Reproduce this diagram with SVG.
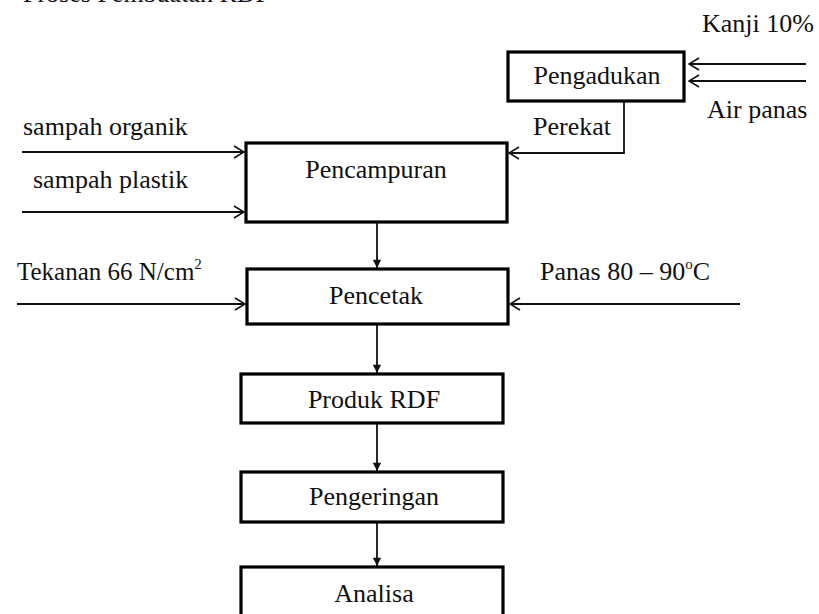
<svg xmlns="http://www.w3.org/2000/svg" width="819" height="614" viewBox="0 0 819 614">
<style>
text{font-family:"Liberation Serif","Times New Roman",serif;font-size:26px;fill:#111}
.box{fill:#fff;stroke:#000;stroke-width:3.2}
.c{text-anchor:middle}
.sup{font-size:15px}
.ln{fill:none;stroke:#111;stroke-width:1.8}
.in{marker-end:url(#open)}
.dn{marker-end:url(#fill)}
</style>
<defs>
<marker id="open" viewBox="0 0 12 14" refX="11" refY="7" markerWidth="12" markerHeight="14" markerUnits="userSpaceOnUse" orient="auto">
<path d="M1,1 L11,7 L1,13" fill="none" stroke="#111" stroke-width="1.6"/>
</marker>
<marker id="fill" viewBox="0 0 10 12" refX="10" refY="5" markerWidth="12" markerHeight="10" markerUnits="userSpaceOnUse" orient="auto">
<path d="M0,0 L10,5 L0,10 z" fill="#111"/>
</marker>
</defs>
<rect width="819" height="614" fill="#fff"/>
<text x="23" y="2">Proses Pembuatan RDF</text>

<g id="connectors">
<line class="ln in" x1="806" y1="64" x2="689" y2="64"/>
<line class="ln in" x1="806" y1="81" x2="689" y2="81"/>
<polyline class="ln in" points="624,101 624,153 509,153"/>
<line class="ln in" x1="22" y1="152" x2="244" y2="152"/>
<line class="ln in" x1="22" y1="212" x2="244" y2="212"/>
<line class="ln in" x1="17" y1="304" x2="245" y2="304"/>
<line class="ln in" x1="740" y1="304" x2="510" y2="304"/>
<line class="ln dn" x1="377" y1="222" x2="377" y2="268"/>
<line class="ln dn" x1="377" y1="324" x2="377" y2="373"/>
<line class="ln dn" x1="377" y1="423" x2="377" y2="471"/>
<line class="ln dn" x1="377" y1="522" x2="377" y2="566"/>
<text x="702" y="32">Kanji 10%</text>
<text x="707" y="118">Air panas</text>
<text x="533" y="135">Perekat</text>
<text x="23" y="135">sampah organik</text>
<text x="33" y="188">sampah plastik</text>
<text x="17" y="280" style="font-size:25px">Tekanan 66 N/cm<tspan class="sup" dy="-11">2</tspan></text>
<text x="540" y="280">Panas 80 – 90<tspan class="sup" dy="-11">o</tspan><tspan dy="11">C</tspan></text>
</g>

<g id="pengadukan"><rect class="box" x="508" y="52" width="176" height="49"/><text class="c" x="597" y="84">Pengadukan</text></g>
<g id="pencampuran"><rect class="box" x="246" y="143" width="261" height="79"/><text class="c" x="376" y="178">Pencampuran</text></g>
<g id="pencetak"><rect class="box" x="247" y="269" width="261" height="55"/><text class="c" x="376" y="304">Pencetak</text></g>
<g id="produk"><rect class="box" x="241" y="374" width="262" height="49"/><text class="c" x="374" y="408">Produk RDF</text></g>
<g id="pengeringan"><rect class="box" x="241" y="472" width="262" height="50"/><text class="c" x="374" y="505">Pengeringan</text></g>
<g id="analisa"><rect class="box" x="241" y="567" width="262" height="60"/><text class="c" x="374" y="602">Analisa</text></g>
</svg>
